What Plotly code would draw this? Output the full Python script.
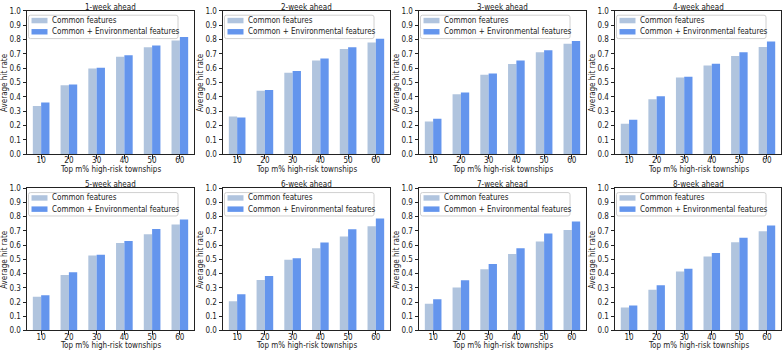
import plotly.graph_objects as go

categories = [10, 20, 30, 40, 50, 60]
panel_titles = ["1-week ahead", "2-week ahead", "3-week ahead", "4-week ahead",
                "5-week ahead", "6-week ahead", "7-week ahead", "8-week ahead"]
common = [
    [0.335, 0.480, 0.597, 0.680, 0.745, 0.793],
    [0.262, 0.442, 0.567, 0.653, 0.733, 0.778],
    [0.228, 0.418, 0.553, 0.628, 0.710, 0.770],
    [0.212, 0.383, 0.535, 0.618, 0.685, 0.748],
    [0.237, 0.390, 0.527, 0.615, 0.677, 0.745],
    [0.205, 0.355, 0.497, 0.578, 0.660, 0.733],
    [0.188, 0.302, 0.430, 0.538, 0.626, 0.706],
    [0.162, 0.286, 0.415, 0.520, 0.620, 0.697],
]
env = [
    [0.360, 0.485, 0.602, 0.690, 0.758, 0.818],
    [0.255, 0.448, 0.580, 0.668, 0.745, 0.805],
    [0.246, 0.430, 0.562, 0.653, 0.725, 0.790],
    [0.240, 0.403, 0.540, 0.630, 0.710, 0.785],
    [0.248, 0.410, 0.532, 0.628, 0.713, 0.780],
    [0.255, 0.382, 0.508, 0.618, 0.712, 0.787],
    [0.220, 0.353, 0.467, 0.578, 0.682, 0.766],
    [0.175, 0.317, 0.433, 0.545, 0.652, 0.738],
]
yticks = [0.0, 0.1, 0.2, 0.3, 0.4, 0.5, 0.6, 0.7, 0.8, 0.9, 1.0]
series_names = ["Common features", "Common + Environmental features"]
colors = ["#b0c4de", "#6495ed"]
x_title = "Top m% high-risk townships"
y_title = "Average hit rate"

W, H = 784, 354
col_px = [(27, 194), (223, 390), (419, 586), (615, 781)]
row_px = [(7, 154), (189, 335)]
FONT = "DejaVu Sans Condensed, DejaVu Sans"
FS = 8.0
TXT = "#222222"


def px_x(v):
    return v / W


def px_y(v):
    return (H - v) / H


def rounded_rect(xl, yt, xr, yb, rad=2):
    X = [px_x(v) for v in (xl, xl + rad, xr - rad, xr)]
    Y = [px_y(v) for v in (yt, yt + rad, yb - rad, yb)]
    return (f"M{X[1]},{Y[0]} L{X[2]},{Y[0]} Q{X[3]},{Y[0]} {X[3]},{Y[1]} "
            f"L{X[3]},{Y[2]} Q{X[3]},{Y[3]} {X[2]},{Y[3]} L{X[1]},{Y[3]} "
            f"Q{X[0]},{Y[3]} {X[0]},{Y[2]} L{X[0]},{Y[1]} Q{X[0]},{Y[0]} {X[1]},{Y[0]} Z")


fig = go.Figure()
layout = dict(width=W, height=H, margin=dict(l=0, r=0, t=0, b=0),
              paper_bgcolor="white", plot_bgcolor="white",
              font=dict(family=FONT, size=FS, color=TXT),
              barmode="overlay", annotations=[], shapes=[], showlegend=False)
xpos = list(range(len(categories)))

for p in range(8):
    r, c = divmod(p, 4)
    ax = "" if p == 0 else str(p + 1)
    x0, x1 = col_px[c]
    yt, yb = row_px[r]
    for s, (vals, name) in enumerate(zip([common[p], env[p]], series_names)):
        fig.add_trace(go.Bar(
            x=xpos, y=vals, name=name, width=0.3, offset=-0.3 + 0.3 * s,
            marker=dict(color=colors[s], line=dict(width=0)),
            xaxis="x" + ax, yaxis="y" + ax))
    axis_common = dict(showline=True, linecolor=TXT, linewidth=1, mirror=True,
                       ticks="outside", ticklen=3.5, tickcolor=TXT, showgrid=False,
                       zeroline=False, tickfont=dict(family=FONT, size=FS, color=TXT))
    layout["xaxis" + ax] = dict(domain=[px_x(x0), px_x(x1)], anchor="y" + ax,
                                range=[-0.51, 5.51], tickvals=xpos, ticklabelstandoff=-5,
                                ticktext=[str(v) for v in categories], **axis_common)
    layout["yaxis" + ax] = dict(domain=[px_y(yb), px_y(yt)], anchor="x" + ax, range=[0, 1.0],
                                tickvals=yticks, ticktext=[f"{v:.1f}" for v in yticks],
                                **axis_common)
    # titles
    layout["annotations"].append(dict(
        text=panel_titles[p], xref="paper", yref="paper",
        x=px_x((x0 + x1) / 2), y=px_y(yt - 3.5), xanchor="center", yanchor="middle",
        showarrow=False, font=dict(family=FONT, size=FS, color=TXT)))
    layout["annotations"].append(dict(
        text=x_title, xref="paper", yref="paper",
        x=px_x((x0 + x1) / 2), y=px_y(yb + 15.5), xanchor="center", yanchor="middle",
        showarrow=False, font=dict(family=FONT, size=FS, color=TXT)))
    layout["annotations"].append(dict(
        text=y_title, xref="paper", yref="paper", textangle=-90,
        x=px_x(x0 - 22.5), y=px_y((yt + yb) / 2), xanchor="center", yanchor="middle",
        showarrow=False, font=dict(family=FONT, size=FS, color=TXT)))
    # legend box
    layout["shapes"].append(dict(
        type="path", xref="paper", yref="paper",
        path=rounded_rect(x0 + 1.5, yt + 4.5, x0 + 151, yt + 28.5),
        fillcolor="rgba(255,255,255,0.8)", line=dict(color="#d0d0d0", width=1)))
    for s, name in enumerate(series_names):
        cy = yt + 10 + 11.5 * s
        layout["shapes"].append(dict(
            type="rect", xref="paper", yref="paper",
            x0=px_x(x0 + 4.5), x1=px_x(x0 + 20.5), y0=px_y(cy - 2.8), y1=px_y(cy + 2.8),
            fillcolor=colors[s], line=dict(width=0)))
        layout["annotations"].append(dict(
            text=name, xref="paper", yref="paper",
            x=px_x(x0 + 23), y=px_y(cy), xanchor="left", yanchor="middle",
            showarrow=False, font=dict(family=FONT, size=FS, color=TXT)))

fig.update_layout(**layout)
fig.write_html("out.html", config={"displayModeBar": False},
               post_script="document.body.style.margin='0';document.body.style.overflow='hidden';")
